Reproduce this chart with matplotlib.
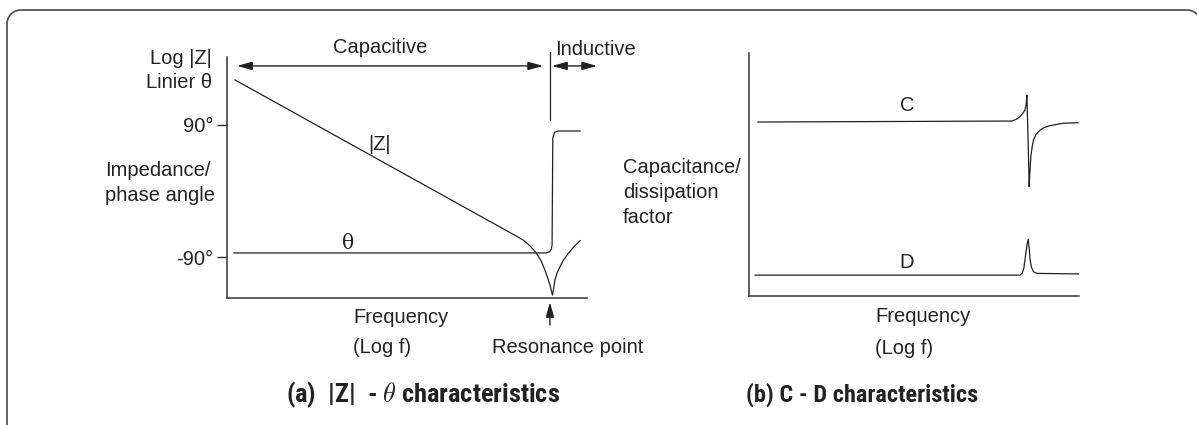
import matplotlib
matplotlib.use("Agg")
import numpy as np
import matplotlib.pyplot as plt

# ---------------- data (schematic units) ----------------
# (a) |Z| - theta panel: x = log f (0..100), y = log|Z| / linear theta (0..100)
z_logf = [2.2, 80.0, 82.3, 84.2, 86.0, 87.3, 88.3, 89.1, 89.7, 90.1, 90.4,
          90.7, 91.1, 91.7, 92.5, 93.5, 94.8, 96.4, 98.1]
z_mag = [90.5, 26.0, 24.0, 21.6, 18.5, 15.3, 11.6, 8.3, 5.4, 3.0, 1.2,
         3.6, 7.5, 10.5, 13.0, 15.8, 18.5, 21.3, 23.8]

theta_logf = [1.9, 88.6, 89.6, 90.1, 90.3, 90.5, 91.0, 92.0, 98.1]
theta_val = [18.7, 18.7, 19.2, 20.3, 22.0, 66.5, 68.8, 69.3, 69.3]

theta_ticks = [17.0, 71.8]
theta_ticklabels = ["-90°", "90°"]

# (b) C - D panel
c_logf = [2.7, 79.6, 81.0, 82.1, 83.0, 83.6, 84.0, 84.2, 84.6, 84.9, 85.1, 85.4,
          85.8, 86.2, 87.0, 88.2, 89.6, 91.2, 95.2, 99.7]
c_val = [71.6, 72.0, 72.7, 73.8, 75.2, 76.5, 79.0, 82.7, 63.0, 45.0, 50.5, 57.3,
         61.3, 64.2, 66.5, 68.3, 69.4, 70.1, 71.1, 71.3]

d_logf = [1.8, 82.1, 82.8, 83.3, 83.9, 84.3, 84.6, 84.9, 85.2, 85.6, 86.2, 87.2, 99.8]
d_val = [8.6, 8.6, 9.4, 11.5, 17.7, 21.5, 23.3, 19.5, 14.8, 11.8, 10.0, 9.3, 9.1]

# ---------------- style ----------------
W, H = 1197, 425
DPI = 100
plt.rcParams['font.family'] = ['Liberation Sans', 'DejaVu Sans']
plt.rcParams['mathtext.fontset'] = 'cm'
FS = 14.5
TXT = '#222222'
LINE = '#222222'
SPINE = '#333333'

fig = plt.figure(figsize=(W / DPI, H / DPI), dpi=DPI)
fig.patch.set_facecolor('white')


def px_axes(left, top, right, bottom):
    return fig.add_axes([left / W, (H - bottom) / H, (right - left) / W, (bottom - top) / H])


# ---------- decorative rounded frame (cut off at right and bottom) ----------
bg = fig.add_axes([0, 0, 1, 1], zorder=-5)
bg.set_xlim(0, W)
bg.set_ylim(H, 0)
bg.axis('off')
FL, FT, FR, RAD = 7, 10, 1201, 14
t_left = np.linspace(np.pi, np.pi / 2, 20)
t_right = np.linspace(np.pi / 2, 0, 20)
fx = np.concatenate([[FL], FL + RAD + RAD * np.cos(t_left), FR - RAD + RAD * np.cos(t_right)])
fy = np.concatenate([[H + 5], FT + RAD - RAD * np.sin(t_left), FT + RAD - RAD * np.sin(t_right)])
bg.plot(fx, fy, color='#555555', lw=1.3, solid_capstyle='butt')

arrow_kw = dict(arrowstyle='<|-|>,head_length=0.9,head_width=0.25', color=LINE,
                lw=1.0, mutation_scale=10, shrinkA=0, shrinkB=0)

# ================= (a) =================
ax = px_axes(227, 57, 587, 298)
ax.set_xlim(0, 100)
ax.set_ylim(0, 100)
for s in ['top', 'right']:
    ax.spines[s].set_visible(False)
for s in ['left', 'bottom']:
    ax.spines[s].set_color(SPINE)
    ax.spines[s].set_linewidth(1.1)
ax.set_xticks([])
ax.set_yticks(theta_ticks)
ax.set_yticklabels(theta_ticklabels, fontsize=FS, color=TXT)
ax.tick_params(axis='y', length=7, width=1.0, color=SPINE, pad=3)

ax.plot(z_logf, z_mag, color=LINE, lw=0.9, clip_on=False)
ax.plot(theta_logf, theta_val, color=LINE, lw=0.9, clip_on=False)

ax.text(42.5, 63.5, '|Z|', fontsize=FS, color=TXT, ha='center', va='center')
ax.text(33.6, 22.8, 'θ', fontsize=FS, color=TXT, ha='center', va='center',
        family=['DejaVu Serif'])

ax.text(-4.2, 99.2, 'Log |Z|', fontsize=FS, color=TXT, ha='right', va='center')
ax.text(-4.2, 89.6, 'Linier θ', fontsize=FS, color=TXT, ha='right', va='center')
ax.text(-33.9, 53.1, 'Impedance/', fontsize=FS, color=TXT, ha='left', va='center')
ax.text(-33.9, 42.7, 'phase angle', fontsize=FS, color=TXT, ha='left', va='center')

# region arrows
ax.annotate('', xy=(87.8, 96.3), xytext=(2.8, 96.3), arrowprops=arrow_kw,
            annotation_clip=False)
ax.plot([89.7, 89.7], [73.9, 102.0], color=LINE, lw=0.9, clip_on=False)
ax.annotate('', xy=(102.8, 96.3), xytext=(90.3, 96.3), arrowprops=arrow_kw,
            annotation_clip=False)
ax.text(42.5, 104.1, 'Capacitive', fontsize=FS, color=TXT, ha='center', va='center')
ax.text(91.1, 103.3, 'Inductive', fontsize=FS, color=TXT, ha='left', va='center')

ax.text(35.0, -7.9, 'Frequency', fontsize=FS, color=TXT, ha='left', va='center')
ax.text(35.0, -20.7, '(Log f)', fontsize=FS, color=TXT, ha='left', va='center')
ax.annotate('', xy=(89.7, -1.7), xytext=(89.7, -11.2),
            arrowprops=dict(arrowstyle='-|>,head_length=0.9,head_width=0.25', color=LINE,
                            lw=1.0, mutation_scale=10, shrinkA=0, shrinkB=0),
            annotation_clip=False)
ax.text(73.6, -20.7, 'Resonance point', fontsize=FS, color=TXT, ha='left', va='center')

# ================= (b) =================
bx = px_axes(749, 53, 1079, 296)
bx.set_xlim(0, 100)
bx.set_ylim(0, 100)
for s in ['top', 'right']:
    bx.spines[s].set_visible(False)
for s in ['left', 'bottom']:
    bx.spines[s].set_color(SPINE)
    bx.spines[s].set_linewidth(1.1)
bx.set_xticks([])
bx.set_yticks([])

bx.plot(c_logf, c_val, color=LINE, lw=0.9, clip_on=False)
bx.plot(d_logf, d_val, color=LINE, lw=0.9, clip_on=False)
bx.text(47.9, 78.2, 'C', fontsize=FS, color=TXT, ha='center', va='center')
bx.text(47.9, 13.6, 'D', fontsize=FS, color=TXT, ha='center', va='center')

bx.text(-38.2, 52.7, 'Capacitance/', fontsize=FS, color=TXT, ha='left', va='center')
bx.text(-38.2, 42.4, 'dissipation', fontsize=FS, color=TXT, ha='left', va='center')
bx.text(-38.2, 32.1, 'factor', fontsize=FS, color=TXT, ha='left', va='center')

bx.text(38.2, -8.6, 'Frequency', fontsize=FS, color=TXT, ha='left', va='center')
bx.text(38.2, -21.4, '(Log f)', fontsize=FS, color=TXT, ha='left', va='center')

# ================= titles =================
title_fam = ['Roboto Condensed', 'Liberation Sans Narrow', 'DejaVu Sans']
tkw = dict(fontweight='bold', fontstretch='condensed', family=title_fam,
           color=TXT, ha='center', va='center')
fig.text(423 / W, (H - 395) / H, r'(a)  |Z|  - $\theta$ characteristics', fontsize=19, **tkw)
fig.text(862 / W, (H - 395) / H, '(b) C - D characteristics', fontsize=17.5, **tkw)

fig.savefig('out.png', dpi=DPI, facecolor='white')
